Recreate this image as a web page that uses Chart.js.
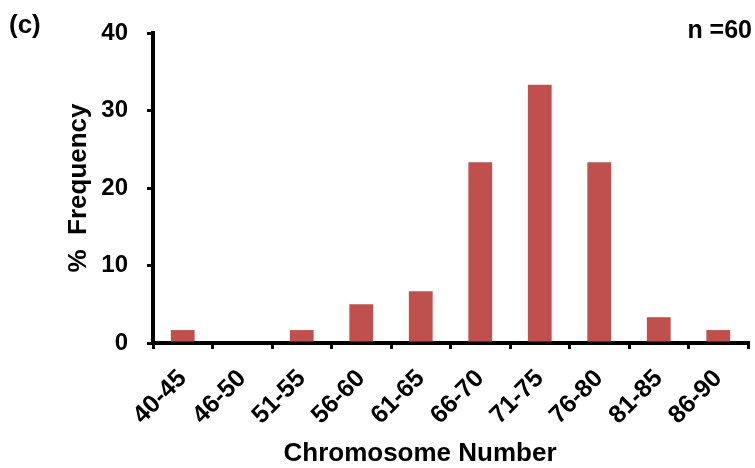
<!DOCTYPE html>
<html>
<head>
<meta charset="utf-8">
<script src="https://cdn.jsdelivr.net/npm/chart.js@4.4.1/dist/chart.umd.min.js"></script>
<style>
  html, body { margin: 0; padding: 0; background: #fff; }
  #wrap { position: relative; width: 755px; height: 468px; }
  canvas { position: absolute; left: 0; top: 0; }
  .lbl { position: absolute; font-family: "Liberation Sans", Arial, sans-serif; font-weight: bold; color: #000; line-height: 1; white-space: nowrap; }
</style>
</head>
<body>
<div id="wrap">
  <canvas id="c" width="755" height="468"></canvas>
  <div class="lbl" style="left:9px; top:11px; font-size:26px;">(c)</div>
  <div class="lbl" style="right:3px; top:17px; font-size:25px;">n =60</div>
  <div class="lbl" id="xt" style="left:0; width:840px; text-align:center; top:439px; font-size:26px;"></div>
</div>
<script>
const categories = ["40-45","46-50","51-55","56-60","61-65","66-70","71-75","76-80","81-85","86-90"];
const frequency = [1.67, 0, 1.67, 5.0, 6.67, 23.33, 33.33, 23.33, 3.33, 1.67];
const yTicks = [0, 10, 20, 30, 40];
const xTitle = "Chromosome Number";
const yTitle = "%  Frequency";

document.getElementById('xt').textContent = xTitle;

const FONT = "'Liberation Sans', Arial, sans-serif";

new Chart(document.getElementById('c'), {
  type: 'bar',
  data: {
    labels: categories,
    datasets: [{
      data: frequency,
      backgroundColor: '#C0504D',
      borderWidth: 0,
      barPercentage: 0.4,
      categoryPercentage: 1.0
    }]
  },
  options: {
    responsive: false,
    animation: false,
    devicePixelRatio: 1,
    layout: { padding: { left: 66, right: 7, top: 33, bottom: 2.5 } },
    plugins: { legend: { display: false }, tooltip: { enabled: false }, title: { display: false } },
    scales: {
      x: {
        type: 'category',
        offset: true,
        border: { display: true, color: '#000', width: 4 },
        grid: { display: true, drawOnChartArea: false, drawTicks: true, tickLength: 6, color: '#000', lineWidth: 3, offset: true },
        ticks: {
          color: '#000', font: { family: FONT, size: 25, weight: 'bold' },
          maxRotation: 45, minRotation: 45, autoSkip: false, padding: 15
        },
        title: { display: false },
        afterFit(scale) { scale.height = 122.5; scale.paddingLeft = 0; scale.paddingRight = 0; }
      },
      y: {
        min: 0, max: 40,
        border: { display: true, color: '#000', width: 4 },
        grid: { display: true, drawOnChartArea: false, drawTicks: true, tickLength: 6, color: '#000', lineWidth: 3 },
        afterBuildTicks(scale) { scale.ticks = yTicks.map(v => ({ value: v })); },
        ticks: { color: '#000', font: { family: FONT, size: 24, weight: 'bold' }, padding: 19 },
        title: { display: true, text: yTitle, color: '#000', font: { family: FONT, size: 26, weight: 'bold', lineHeight: 1 }, padding: 0 },
        afterFit(scale) { scale.width = 87; scale.paddingTop = 0; scale.paddingBottom = 0; }
      }
    }
  }
});
</script>
</body>
</html>
